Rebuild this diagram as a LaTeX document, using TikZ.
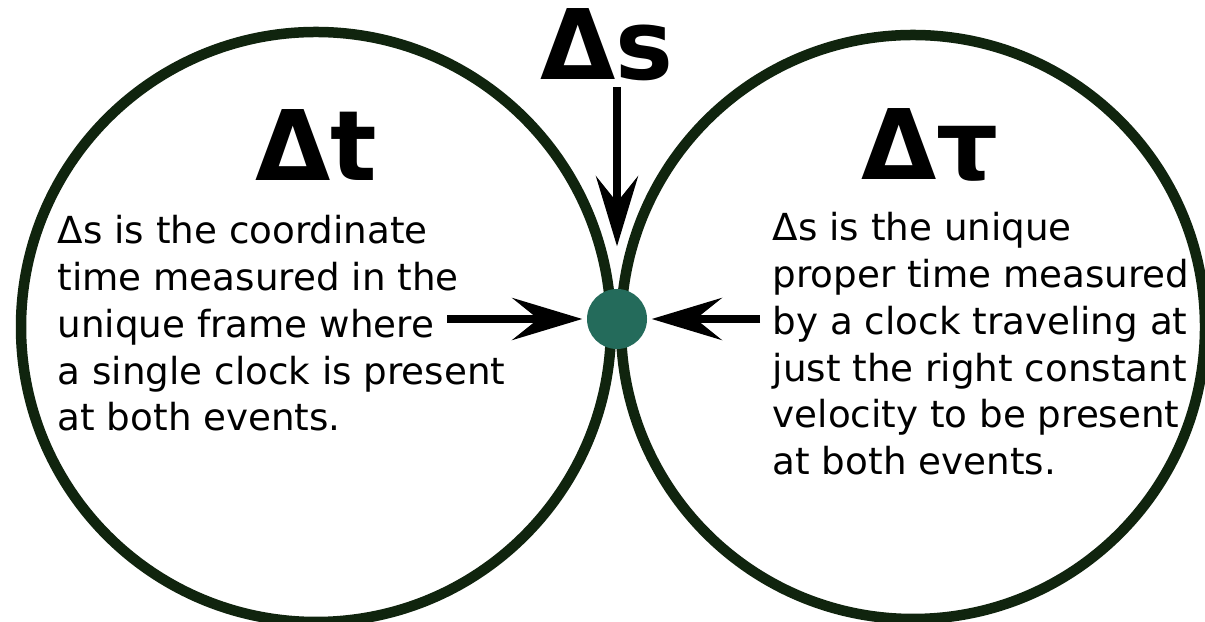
\documentclass[tikz,border=0pt]{standalone}
\usepackage{fontspec}
\setmainfont{DejaVu Sans}
\usepackage{tikz}
\usetikzlibrary{arrows.meta,positioning}
\definecolor{ringGreen}{RGB}{16,36,14}
\definecolor{eventTeal}{RGB}{36,107,91}
\tikzset{
    ring/.style={circle,draw=ringGreen,line width=1.05mm,inner sep=0pt},
    event/.style={circle,fill=eventTeal,inner sep=0pt,minimum size=6mm},
    heading/.style={font=\fontsize{27.7}{33}\selectfont\bfseries,inner sep=0pt,anchor=base},
    body/.style={font=\fontsize{10.6}{13.3}\selectfont,align=left,inner sep=0pt,anchor=north west},
    arr/.style={-{Stealth[length=7mm,width=4.2mm,inset=2.6mm]},line width=0.8mm,shorten >=0.4mm}
}
\begin{document}
\begin{tikzpicture}
    \fill[white] (0,0) rectangle (12.05,-6.22);
    \useasboundingbox (0,0) rectangle (12.05,-6.22);

    % the two frames
    \node[ring,minimum size=5.90cm] (coord)  at (3.16,-3.27) {};
    \node[ring,minimum size=5.84cm] (proper) at (9.13,-3.27) {};

    % headings
    \node[heading] (dslabel) at (6.07,-0.80) {Δs};
    \node[heading] (dtlabel) at (3.16,-1.81) {Δt};
    \node[heading] (dtaulabel) at (9.30,-1.80) {Δτ};

    % explanations
    \node[body] (coordtext) at (0.57,-2.15)
        {Δs is the coordinate\\time measured in the\\unique frame where\\a single clock is present\\at both events.};
    \node[body] (propertext) at (7.72,-2.12)
        {Δs is the unique\\proper time measured\\by a clock traveling at\\just the right constant\\velocity to be present\\at both events.};

    % the shared event
    \node[event] (evt) at (6.17,-3.19) {};

    \coordinate (topfrom)   at (6.17,-0.87);
    \coordinate (leftfrom)  at (4.47,-3.19);
    \coordinate (rightfrom) at (7.60,-3.19);
    \draw[arr,shorten >=4.2mm] (topfrom) -- (evt);
    \draw[arr] (leftfrom) -- (evt);
    \draw[arr] (rightfrom) -- (evt);
\end{tikzpicture}
\end{document}
